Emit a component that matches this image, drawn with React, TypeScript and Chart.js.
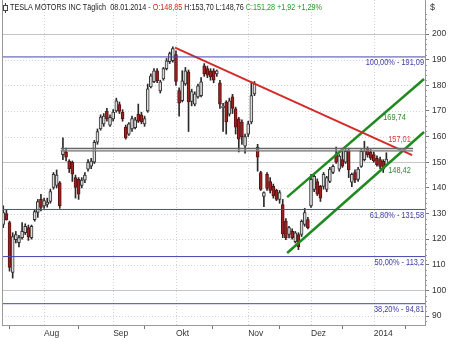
import React, { useEffect, useRef } from 'react';
import { Chart, registerables } from 'chart.js';

Chart.register(...registerables);

const FONT = '"Liberation Sans Narrow", "Liberation Sans", Arial, sans-serif';
const TEXT_SCALE = 0.82;

// Month boundaries (trading-day index) and labels
const monthTickIdx = [13, 35, 55, 78, 98, 118];
const monthLabels = ['Aug', 'Sep', 'Okt', 'Nov', 'Dez', '2014'];
const yTicks = [90, 100, 110, 120, 130, 140, 150, 160, 170, 180, 190, 200];
const solidGrid = [100, 150, 200];

// Daily OHLC, 15.07.2013 .. 08.01.2014
const opens = [125.7, 130, 126.5, 107, 119.8, 118.6, 120.6, 122.5, 124.5, 120.6, 127.6, 130.4, 135.5,
  133, 133.5, 134.7, 140.2, 141, 142, 153, 154, 150.5, 150, 144, 143.3, 141, 143, 147.3, 148.5, 150, 157.8, 163, 165, 170, 164.5,
  166.9, 170, 172.5, 169.6, 163.7, 161, 163, 163.5, 168.8, 168.5, 165, 170, 179.4, 181.4, 185.7, 177.8, 182.5, 186.5, 189.2, 189.6,
  192, 178, 174, 180.6, 185.3, 173.7, 172.7, 175.5, 176, 187.6, 186.5, 185.7, 185.7, 184.5, 181, 171.3, 173.5, 168.8, 175.5, 170.8, 166.9, 165.7,
  156.3, 161, 165.7, 176.7, 155.9, 146, 136.7, 145.3, 142.5, 140.6, 139, 135.5, 133.5, 127, 121.8, 123, 119, 121.8, 121.8, 125.7, 127.6,
  133, 139.4, 142.5, 140.6, 140.6, 139.4, 142.5, 146, 153, 147.3, 151, 150, 154.7, 142.2, 146, 143.3, 148.4, 151, 155, 154,
  153, 151.5, 151, 150.4, 148.85];
const highs = [133, 131.5, 127, 122.5, 123, 121.5, 126.5, 126, 125.5, 125.5, 131.5, 135.5, 137.5,
  136, 136, 139.5, 146, 147, 142.5, 159.5, 155.5, 151, 150.5, 145, 144, 144, 146, 151, 151.5, 158.5, 163, 168.5, 169, 171, 168.5,
  170.5, 175, 173.5, 170.5, 164.5, 165.5, 168, 167.5, 172.7, 169.5, 168, 180.5, 184.5, 186.5, 186.5, 182, 187, 190.5, 193, 195,
  193.5, 179, 185.7, 187, 186, 178.5, 177.5, 180.5, 183, 188.5, 187.5, 186.5, 186.5, 186, 182, 173, 174, 175, 176.5, 171.5, 167.5, 166.5,
  161, 166, 181.4, 181.5, 157, 146.5, 138.5, 146, 144, 141.5, 139.5, 139, 135.5, 128, 125, 124, 123, 122.5, 127.5, 132, 128.5,
  145.3, 145, 143.5, 141, 146, 144.5, 148, 149, 155.9, 153, 155.5, 155, 155.5, 145.8, 147, 148, 155, 158.2, 156, 155,
  154, 152.5, 152, 151, 153.7];
const lows = [124.5, 127.4, 107.5, 104.8, 118.5, 117, 120, 121.8, 119.5, 120, 127, 128.5, 131,
  132, 132.5, 134, 139.5, 140, 132, 151, 150.5, 146, 142.5, 136, 135.5, 140, 142, 146.5, 147.5, 149.5, 157, 162.5, 164, 166, 164,
  166, 169.5, 169, 166, 159, 160.5, 162, 163, 165.5, 165, 164, 169.5, 179, 181, 181, 177, 182, 186, 188.5, 189,
  180, 168, 173.5, 180, 162, 172, 172, 175, 175.5, 183.5, 183, 182, 181, 183.5, 171, 162, 161, 168, 169, 161, 154, 157,
  153.5, 160, 165, 176, 146.5, 139, 132.7, 139, 138, 136, 135, 134, 120.6, 119.8, 120.5, 120, 118.5, 115.9, 121, 125, 124,
  132.4, 138.5, 137, 134.7, 139.5, 138.5, 142, 145.5, 149.5, 146.5, 148, 149.5, 144, 140.5, 142, 142.5, 148, 150.5, 152, 151,
  150, 148.5, 147.5, 146, 148.76];
const closes = [130.4, 127.6, 109, 121, 121.8, 120.6, 123, 125, 121, 125, 130.8, 134.7, 132.4,
  135, 134.5, 138.6, 145.3, 145, 133, 154.7, 152, 147.5, 145.3, 140.2, 137.5, 143, 145, 150, 150.5, 157.8, 162, 167.6, 168, 166.9, 167.5,
  169.6, 174, 169.8, 167, 159.5, 165, 167, 166.5, 166, 165.7, 167, 178.6, 183.7, 185.7, 181.8, 181.4, 186.5, 189.6, 192.4, 194.3,
  181.5, 173, 181.8, 185.7, 173.5, 177.6, 176.7, 179.8, 181.4, 184.5, 184, 183.3, 182, 185.7, 172.7, 171.9, 165.7, 174, 171, 163.7, 159, 160,
  160, 165, 176, 180.6, 152, 139.4, 138.2, 139.8, 139, 137, 135.5, 138.2, 122, 120.5, 124.5, 120.5, 122.5, 117, 126.9, 130.4, 124.5,
  143.3, 144.5, 137.5, 136, 145.3, 144, 147.3, 148.4, 150, 152.4, 148.5, 154.3, 147, 145.3, 143, 147.3, 154.3, 154.5, 153, 151.6,
  150.5, 149, 148.4, 147.3, 151.28];

// Fibonacci retracement levels
const fibLevels = [191.09, 131.58, 113.2, 94.81];
const fibLabels = ['100,00% - 191,09', '61,80% - 131,58', '50,00% - 113,2', '38,20% - 94,81'];

// Horizontal resistance band
const bandLevels = [155.4, 154.4];
const bandX = [18.3, 130.5];

// Trend lines (x = trading-day index, y = price)
const redLineX = [54.7, 130.2];
const redLineY = [194.7, 152.8];
const greenUpperX = [90.4, 134.0];
const greenUpperY = [136.4, 182.5];
const greenLowerX = [90.4, 134.0];
const greenLowerY = [114.6, 161.8];

const lineLabels = [
  { text: '169,74', x: 121.0, y: 167.6, color: '#2f8a2f' },
  { text: '157,01', x: 122.6, y: 158.7, color: '#d83a3a' },
  { text: '148,42', x: 122.6, y: 146.6, color: '#2f8a2f' },
];

const headerParts = [
  { t: 'TESLA MOTORS INC Täglich  08.01.2014 ', c: '#222' },
  { t: '- O:148,85 ', c: '#d42020' },
  { t: 'H:153,70 L:148,76 ', c: '#222' },
  { t: 'C:151,28 +1,92 +1,29%', c: '#1e9e1e' },
];
const HEADER_WIDTH = 312;

const X_MIN = -0.4;
const X_MAX = 134.3;
const Y_MIN = 86.5;
const Y_MAX = 213.3;

const idx = opens.map((_, i) => i);

function scaledText(ctx: CanvasRenderingContext2D, text: string, x: number, y: number, sx: number) {
  ctx.save();
  ctx.translate(x, y);
  ctx.scale(sx, 1);
  ctx.fillText(text, 0, 0);
  ctx.restore();
}

const decor = {
  id: 'decor',
  beforeDatasetsDraw(chart: any) {
    const { ctx, chartArea: a, scales } = chart;
    const x = scales.x, y = scales.y;
    ctx.save();
    ctx.lineWidth = 1;
    for (const v of yTicks) {
      const py = Math.round(y.getPixelForValue(v)) + 0.5;
      ctx.beginPath();
      if (solidGrid.includes(v)) {
        ctx.setLineDash([]);
        ctx.strokeStyle = '#c6c6c6';
      } else {
        ctx.setLineDash([1, 2]);
        ctx.strokeStyle = '#d2d2d2';
      }
      ctx.moveTo(a.left, py);
      ctx.lineTo(a.right, py);
      ctx.stroke();
    }
    ctx.setLineDash([1, 2]);
    ctx.strokeStyle = '#d2d2d2';
    for (const m of monthTickIdx) {
      const px = Math.round(x.getPixelForValue(m)) + 0.5;
      ctx.beginPath();
      ctx.moveTo(px, a.top);
      ctx.lineTo(px, a.bottom);
      ctx.stroke();
    }
    ctx.restore();
  },
  afterDatasetsDraw(chart: any) {
    const { ctx, chartArea: a, scales } = chart;
    const x = scales.x, y = scales.y;
    ctx.save();
    ctx.font = '9px ' + FONT;
    ctx.textAlign = 'right';
    ctx.textBaseline = 'top';
    ctx.fillStyle = '#3b3ba6';
    fibLevels.forEach((v, i) => {
      const py = y.getPixelForValue(v);
      scaledText(ctx, fibLabels[i], a.right - 1, py + 1.5, TEXT_SCALE);
    });
    ctx.textAlign = 'left';
    ctx.textBaseline = 'middle';
    for (const l of lineLabels) {
      ctx.fillStyle = l.color;
      scaledText(ctx, l.text, x.getPixelForValue(l.x), y.getPixelForValue(l.y), TEXT_SCALE);
    }
    ctx.restore();
  },
  afterDraw(chart: any) {
    const { ctx, chartArea: a, scales } = chart;
    const y = scales.y;
    ctx.save();
    // left frame
    ctx.strokeStyle = '#999';
    ctx.lineWidth = 1;
    ctx.beginPath();
    ctx.moveTo(a.left + 0.5, a.top);
    ctx.lineTo(a.left + 0.5, a.bottom);
    ctx.stroke();
    // minor ticks on the price axis
    for (let v = 88; v <= 210; v += 2) {
      if (v % 10 === 0) continue;
      const py = Math.round(y.getPixelForValue(v)) + 0.5;
      ctx.beginPath();
      ctx.moveTo(a.right, py);
      ctx.lineTo(a.right + 2, py);
      ctx.stroke();
    }
    // header icon
    ctx.strokeStyle = '#444';
    ctx.beginPath();
    ctx.moveTo(5.5, 3);
    ctx.lineTo(5.5, 13);
    ctx.stroke();
    ctx.fillStyle = '#fff';
    ctx.fillRect(3.5, 5.5, 4, 5);
    ctx.strokeRect(3.5, 5.5, 4, 5);
    // header text
    ctx.font = '9px ' + FONT;
    ctx.textBaseline = 'middle';
    ctx.textAlign = 'left';
    const total = headerParts.reduce((s, p) => s + ctx.measureText(p.t).width, 0);
    const sx = Math.min(1, HEADER_WIDTH / total);
    let px = 10;
    for (const p of headerParts) {
      ctx.fillStyle = p.c;
      scaledText(ctx, p.t, px, 8, sx);
      px += ctx.measureText(p.t).width * sx;
    }
    // currency label
    ctx.fillStyle = '#333';
    ctx.fillText('$', a.right + 5, 8);
    ctx.restore();
  },
};

export default function App() {
  const ref = useRef<HTMLCanvasElement>(null);
  useEffect(() => {
    document.body.style.margin = '0';
    const canvas = ref.current;
    if (!canvas) return;
    const lineDs = (xs: number[], ys: number[], color: string, width: number, extra: any = {}) => ({
      type: 'line',
      data: xs.map((xv, i) => ({ x: xv, y: ys[i] })),
      borderColor: color,
      borderWidth: width,
      pointRadius: 0,
      fill: false,
      order: 0,
      ...extra,
    });
    const chart = new Chart(canvas, {
      type: 'bar',
      data: {
        datasets: [
          {
            type: 'bar',
            label: 'wick',
            data: idx.map((i) => ({ x: i, y: [lows[i], highs[i]] })),
            backgroundColor: '#2a2a2a',
            barThickness: 1,
            grouped: false,
            order: 3,
          } as any,
          {
            type: 'bar',
            label: 'body',
            data: idx.map((i) => ({ x: i, y: [Math.min(opens[i], closes[i]), Math.max(opens[i], closes[i])] })),
            backgroundColor: idx.map((i) => (closes[i] >= opens[i] ? '#dcdcdc' : '#9a2222')),
            borderColor: idx.map((i) => (closes[i] >= opens[i] ? '#333' : '#5e1010')),
            borderWidth: 1,
            borderSkipped: false,
            barThickness: 3,
            minBarLength: 1,
            grouped: false,
            order: 2,
          } as any,
          ...fibLevels.map((v) => lineDs([X_MIN, X_MAX], [v, v], '#4646b0', 1)),
          lineDs(bandX, [bandLevels[0], bandLevels[0]], '#666', 1.3, { fill: '+1', backgroundColor: 'rgba(170,170,170,0.45)' }),
          lineDs(bandX, [bandLevels[1], bandLevels[1]], '#666', 1.3),
          lineDs(redLineX, redLineY, '#d42a2a', 2),
          lineDs(greenUpperX, greenUpperY, '#1f8a1f', 2.5),
          lineDs(greenLowerX, greenLowerY, '#1f8a1f', 2.5),
        ] as any,
      },
      options: {
        animation: false,
        responsive: false,
        maintainAspectRatio: false,
        layout: { padding: { left: 2, right: 0, top: 0, bottom: 0 } },
        plugins: { legend: { display: false }, tooltip: { enabled: false } },
        scales: {
          x: {
            type: 'linear',
            min: X_MIN,
            max: X_MAX,
            offset: false,
            afterBuildTicks: (s: any) => {
              s.ticks = monthTickIdx.map((v) => ({ value: v }));
            },
            afterFit: (s: any) => {
              s.height = 13;
              s.paddingLeft = 0;
              s.paddingRight = 0;
            },
            ticks: {
              autoSkip: false,
              maxRotation: 0,
              align: 'start',
              padding: 0,
              color: '#333',
              font: { family: FONT, size: 8.5 },
              callback: (v: any) => monthLabels[monthTickIdx.indexOf(Number(v))] ?? '',
            },
            grid: { drawOnChartArea: false, drawTicks: true, tickLength: 4, tickColor: '#777' },
            border: { display: true, color: '#999' },
          },
          y: {
            type: 'linear',
            position: 'right',
            min: Y_MIN,
            max: Y_MAX,
            afterBuildTicks: (s: any) => {
              s.ticks = yTicks.map((v) => ({ value: v }));
            },
            afterFit: (s: any) => {
              s.width = 25;
              s.paddingTop = 0;
              s.paddingBottom = 0;
            },
            ticks: {
              padding: 3,
              color: '#333',
              font: { family: FONT, size: 8.5 },
            },
            grid: { drawOnChartArea: false, drawTicks: true, tickLength: 4, tickColor: '#777' },
            border: { display: true, color: '#999' },
          },
        },
      } as any,
      plugins: [decor],
    });
    return () => chart.destroy();
  }, []);
  return (
    <div style={{ position: 'fixed', left: 0, top: 0, width: 450, height: 338, background: '#fff' }}>
      <canvas ref={ref} width={450} height={338} style={{ display: 'block' }} />
    </div>
  );
}
